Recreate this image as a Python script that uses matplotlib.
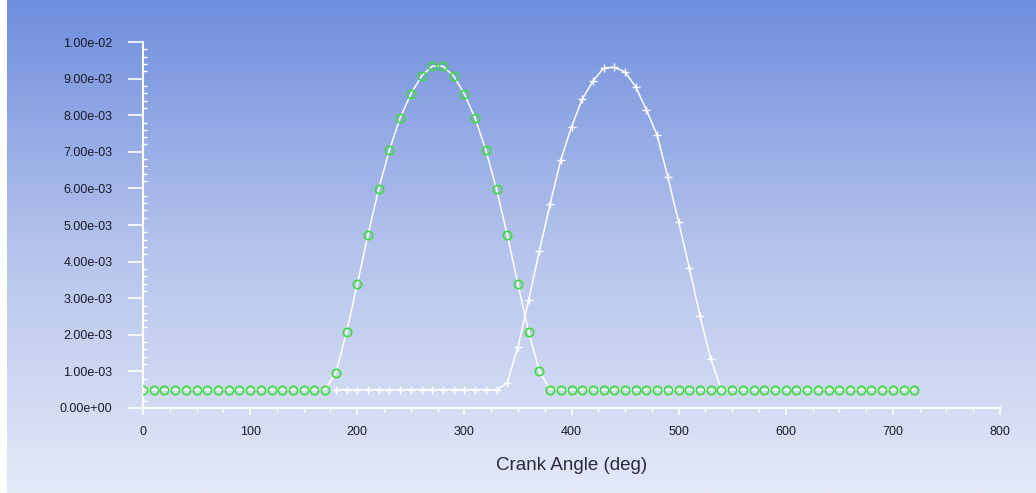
import numpy as np
import matplotlib.pyplot as plt
from matplotlib.colors import LinearSegmentedColormap
from matplotlib.ticker import MultipleLocator, FormatStrFormatter

plt.rcParams['font.family'] = ['Liberation Sans', 'DejaVu Sans']

# Intake series: crank angle 0..720 every 10 deg
intake_angle = list(range(0, 730, 10))
intake_lift = ([0.0005] * 18 +
               [0.00096, 0.00208, 0.00338, 0.00473, 0.00598, 0.00705, 0.00792, 0.00858,
                0.00907, 0.00934, 0.00934, 0.00907, 0.00858, 0.00792, 0.00705, 0.00598,
                0.00473, 0.00338, 0.00208, 0.00100] +
               [0.0005] * 35)

# Exhaust series: crank angle 180..540 every 10 deg
exhaust_angle = list(range(180, 550, 10))
exhaust_lift = ([0.0005] * 16 +
                [0.00068, 0.00167, 0.00295, 0.00429, 0.00557, 0.00678, 0.00768, 0.00844,
                 0.00893, 0.00929, 0.00931, 0.00918, 0.00877, 0.00814, 0.00745, 0.00630,
                 0.00508, 0.00383, 0.00251, 0.00134, 0.0005])

fig = plt.figure(figsize=(10.36, 4.93), dpi=100)

# gradient background
bg = fig.add_axes([7 / 1036, 0, 1 - 7 / 1036, 1])
cmap = LinearSegmentedColormap.from_list('bg', ['#e4e9f8', '#b4c3ec', '#6f8edd'])
bg.imshow(np.linspace(0, 1, 256).reshape(-1, 1), aspect='auto', cmap=cmap,
          origin='lower', extent=[0, 1, 0, 1])
bg.axis('off')

ax = fig.add_axes([143 / 1036, 1 - 408 / 493, (1000 - 143) / 1036, (408 - 42) / 493])
ax.patch.set_alpha(0)

ax.plot(exhaust_angle, exhaust_lift, color='white', lw=1.1, marker='+',
        markersize=6, markeredgewidth=1.0, zorder=3)
ax.plot(intake_angle, intake_lift, color='white', lw=1.1, marker='o',
        markersize=6, markerfacecolor='none', markeredgecolor='#3ddc3d',
        markeredgewidth=1.2, zorder=4)

ax.set_xlim(0, 800)
ax.set_ylim(0, 0.01)
for s in ['top', 'right']:
    ax.spines[s].set_visible(False)
for s in ['left', 'bottom']:
    ax.spines[s].set_color('white')
    ax.spines[s].set_linewidth(1.5)

ax.xaxis.set_major_locator(MultipleLocator(100))
ax.xaxis.set_minor_locator(MultipleLocator(25))
ax.yaxis.set_major_locator(MultipleLocator(0.001))
ax.yaxis.set_minor_locator(MultipleLocator(0.0002))
ax.yaxis.set_major_formatter(FormatStrFormatter('%.2e'))

ax.tick_params(axis='y', which='major', direction='out', length=11, width=1.2,
               color='white', labelsize=9, labelcolor='#1a1a2a', pad=11)
ax.tick_params(axis='y', which='minor', direction='in', length=3, width=1,
               color='white')
ax.tick_params(axis='x', which='major', direction='out', length=5, width=1.2,
               color='white', labelsize=9, labelcolor='#1a1a2a', pad=8)
ax.tick_params(axis='x', which='minor', direction='out', length=3, width=1,
               color='white')

ax.set_xlabel('Crank Angle (deg)', fontsize=13.5, color='#2a2a3a', labelpad=14)

fig.savefig('out.png', dpi=100)
